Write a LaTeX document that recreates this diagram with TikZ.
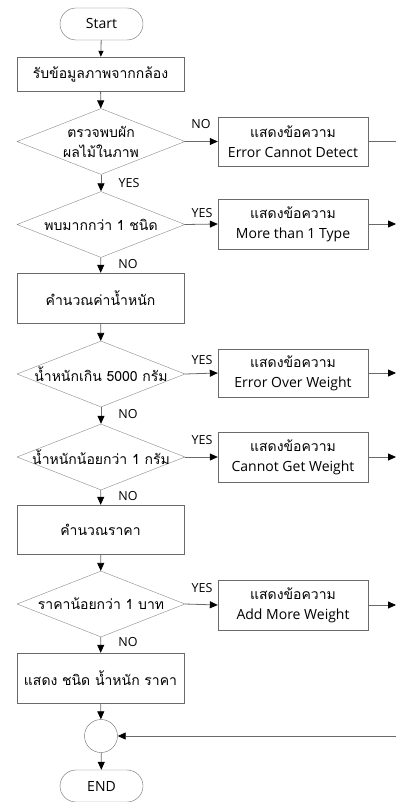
\documentclass[tikz,border=0pt]{standalone}
\usepackage{fontspec}
\setmainfont{Open Sans}
\newfontfamily\thai[Script=Thai]{Loma}
\usetikzlibrary{shapes.geometric,arrows.meta}
\definecolor{edge}{HTML}{6A6A6A}
\definecolor{dedge}{HTML}{8A8A8A}
\tikzset{
  x=1pt,y=-1pt,
  every node/.style={font=\fontsize{14}{17}\selectfont},
  term/.style={draw=edge,rounded corners=16pt,minimum width=83pt,minimum height=32pt,inner sep=0pt},
  procbox/.style={draw=edge,minimum width=167pt,inner sep=0pt},
  msgbox/.style={draw=edge,minimum width=150pt,inner sep=0pt,align=center},
  decis/.style={draw=dedge,diamond,aspect=2.545,minimum width=168pt,minimum height=66pt,inner sep=0pt},
  dtext/.style={inner sep=0pt,align=center},
  joint/.style={draw=edge,circle,minimum size=33pt,inner sep=0pt},
  lab/.style={font=\fontsize{12.5}{14}\selectfont,inner sep=0pt},
  flow/.style={draw=edge,line width=0.8pt,-{Triangle[length=8pt,width=7pt,color=black]}},
  plain/.style={draw=edge,line width=0.8pt},
}
\begin{document}
\begin{tikzpicture}
\useasboundingbox (0,0) rectangle (396,802);
\node[term] (start) at (101.5,24) {Start};
\node[procbox,minimum height=34pt] (b1) at (100.5,74) {\thai รับข้อมูลภาพจากกล้อง};
\node[decis] (d1) at (101,141.5) {};
\node[dtext] (t1) at (d1) {\thai ตรวจพบผัก\\[3pt]\thai ผลไม้ในภาพ};
\node[msgbox,minimum height=49pt] (e1) at (293,141.5) {\thai แสดงข้อความ\\[3pt]Error Cannot Detect};
\node[decis] (d2) at (101,224.5) {};
\node[dtext] (t2) at (d2) {\thai พบมากกว่า 1 ชนิด};
\node[msgbox,minimum height=50pt] (e2) at (293,224) {\thai แสดงข้อความ\\[3pt]More than 1 Type};
\node[procbox,minimum height=50pt] (b2) at (100.5,298) {\thai คำนวณค่าน้ำหนัก};
\node[decis] (d3) at (101,374) {};
\node[dtext] (t3) at (d3) {\thai น้ำหนักเกิน 5000 กรัม};
\node[msgbox,minimum height=48pt] (e3) at (293,373) {\thai แสดงข้อความ\\[3pt]Error Over Weight};
\node[decis] (d4) at (101,457) {};
\node[dtext] (t4) at (d4) {\thai น้ำหนักน้อยกว่า 1 กรัม};
\node[msgbox,minimum height=50pt] (e4) at (293,457) {\thai แสดงข้อความ\\[3pt]Cannot Get Weight};
\node[procbox,minimum height=49pt] (b3) at (100.5,529.5) {\thai คำนวณราคา};
\node[decis] (d5) at (101,604) {};
\node[dtext] (t5) at (d5) {\thai ราคาน้อยกว่า 1 บาท};
\node[msgbox,minimum height=50pt] (e5) at (293,605) {\thai แสดงข้อความ\\[3pt]Add More Weight};
\node[procbox,minimum height=50pt] (b4) at (100.5,678) {\thai แสดง ชนิด น้ำหนัก ราคา};
\node[joint] (j) at (101,736) {};
\node[term] (end) at (101.5,786) {END};
\coordinate (o1) at (396,141.5);
\coordinate (o2) at (396,224);
\coordinate (o3) at (396,373);
\coordinate (o4) at (396,457);
\coordinate (o5) at (396,605);
\coordinate (o6) at (396,736);
\draw[draw=edge,line width=0.8pt,-{Triangle[length=6pt,width=5pt,color=black]}] (start) -- (b1);
\draw[flow] (b1) -- (d1);
\draw[flow] (d1) -- (d2);
\draw[flow] (d2) -- (b2);
\draw[flow] (b2) -- (d3);
\draw[flow] (d3) -- (d4);
\draw[flow] (d4) -- (b3);
\draw[flow] (b3) -- (d5);
\draw[flow] (d5) -- (b4);
\draw[flow] (b4) -- (j);
\draw[flow] (j) -- (end);
\draw[flow] (d1.east) -- (e1.west);
\draw[flow] (d2.east) -- (e2.west);
\draw[flow] (d3.east) -- (e3.west);
\draw[flow] (d4.east) -- (e4.west);
\draw[flow] (d5.east) -- (e5.west);
\draw[plain] (e1.east) -- (o1);
\draw[flow] (e2.east) -- (o2);
\draw[flow] (e3.east) -- (o3);
\draw[flow] (e4.east) -- (o4);
\draw[flow] (e5.east) -- (o5);
\draw[flow] (o6) -- (j.east);
\node[lab] (l1) at (201,124) {NO};
\node[lab] (l2) at (129,183) {YES};
\node[lab] (l3) at (202,213) {YES};
\node[lab] (l4) at (128,264) {NO};
\node[lab] (l5) at (202,360) {YES};
\node[lab] (l6) at (128,414) {NO};
\node[lab] (l7) at (202,440) {YES};
\node[lab] (l8) at (128,496) {NO};
\node[lab] (l9) at (202,588) {YES};
\node[lab] (l10) at (128,642) {NO};
\end{tikzpicture}
\end{document}
